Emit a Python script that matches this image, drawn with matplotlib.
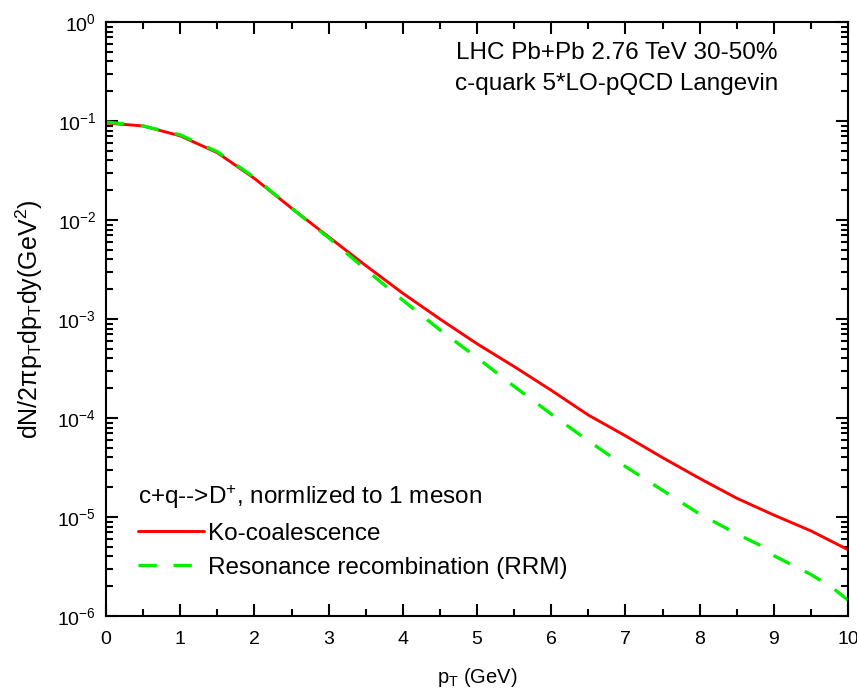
import numpy as np
import matplotlib
matplotlib.use("Agg")
import matplotlib.pyplot as plt
from matplotlib.ticker import LogLocator, MultipleLocator, NullFormatter

plt.rcParams['font.family'] = ['Liberation Sans', 'DejaVu Sans']
plt.rcParams['mathtext.fontset'] = 'custom'
plt.rcParams['mathtext.rm'] = 'Liberation Sans'
plt.rcParams['mathtext.it'] = 'Liberation Sans'
plt.rcParams['mathtext.default'] = 'regular'

# Ko-coalescence (red solid), log10 values
pt_ko = [0.0, 0.5, 1.0, 1.5, 2.0, 2.5, 3.0, 3.5, 4.0, 4.5, 5.0, 5.5, 6.0,
         6.5, 7.0, 7.5, 8.0, 8.5, 9.0, 9.5, 10.0]
log_ko = [-1.02, -1.05, -1.15, -1.32, -1.58, -1.88, -2.17, -2.46, -2.74,
          -3.00, -3.25, -3.48, -3.72, -3.97, -4.18, -4.40, -4.61, -4.81,
          -4.98, -5.14, -5.33]

# Resonance recombination (green dashed)
pt_rrm = [0.0, 0.5, 1.0, 1.5, 2.0, 2.5, 3.0, 3.5, 4.0, 4.5, 5.0, 5.5, 6.0,
          6.5, 7.0, 7.5, 8.0, 8.5, 8.8, 9.0, 9.5, 9.8, 10.0]
log_rrm = [-1.01, -1.05, -1.14, -1.31, -1.57, -1.88, -2.18, -2.50, -2.81,
           -3.11, -3.39, -3.68, -3.96, -4.23, -4.49, -4.73, -4.97, -5.17,
           -5.28, -5.39, -5.58, -5.72, -5.84]

ko = 10.0 ** np.array(log_ko)
rrm = 10.0 ** np.array(log_rrm)

fig = plt.figure(figsize=(8.57, 6.96), dpi=100)
ax = fig.add_axes([106/857, 1-616/696, 742/857, 594/696])

l1, = ax.plot(pt_ko, ko, color='#ff0000', lw=2.1, solid_capstyle='round')
l2, = ax.plot(pt_rrm, rrm, color='#00f000', lw=2.4, dashes=(5.5, 5.0))

ax.set_yscale('log')
ax.set_xlim(0, 10)
ax.set_ylim(1e-6, 1)

ax.xaxis.set_major_locator(MultipleLocator(1))
ax.xaxis.set_minor_locator(MultipleLocator(0.5))
ax.yaxis.set_major_locator(LogLocator(base=10, numticks=10))
ax.yaxis.set_minor_locator(LogLocator(base=10, subs=np.arange(2, 10), numticks=20))
ax.yaxis.set_minor_formatter(NullFormatter())

for s in ax.spines.values():
    s.set_linewidth(1.5)
ax.tick_params(which='both', direction='in', top=True, right=True, width=1.5)
ax.tick_params(which='major', length=8.5, labelsize=14)
ax.tick_params(which='minor', length=5)
ax.tick_params(axis='x', which='major', pad=11)
ax.tick_params(axis='y', which='major', pad=7)

ax.set_xlabel(r'p$_T$ (GeV)', fontsize=14.5, labelpad=13)
ax.set_ylabel(r'dN/2$\pi$p$_T$dp$_T$dy(GeV$^2$)', fontsize=18, labelpad=9)

ax.text(0.688, 0.947, 'LHC Pb+Pb 2.76 TeV 30-50%', transform=ax.transAxes,
        ha='center', va='center', fontsize=17.5)
ax.text(0.688, 0.896, 'c-quark 5*LO-pQCD Langevin', transform=ax.transAxes,
        ha='center', va='center', fontsize=17.5)

leg = ax.legend([l1, l2], ['Ko-coalescence', 'Resonance recombination (RRM)'],
                title=r'c+q-->D$^{+}$, normlized to 1 meson',
                loc='lower left', bbox_to_anchor=(0.043, 0.063),
                frameon=False, fontsize=17.5, title_fontsize=17.5,
                handlelength=2.7, handletextpad=0.2, labelspacing=0.48,
                borderpad=0, borderaxespad=0, alignment='left')

fig.savefig('out.png', dpi=100)
